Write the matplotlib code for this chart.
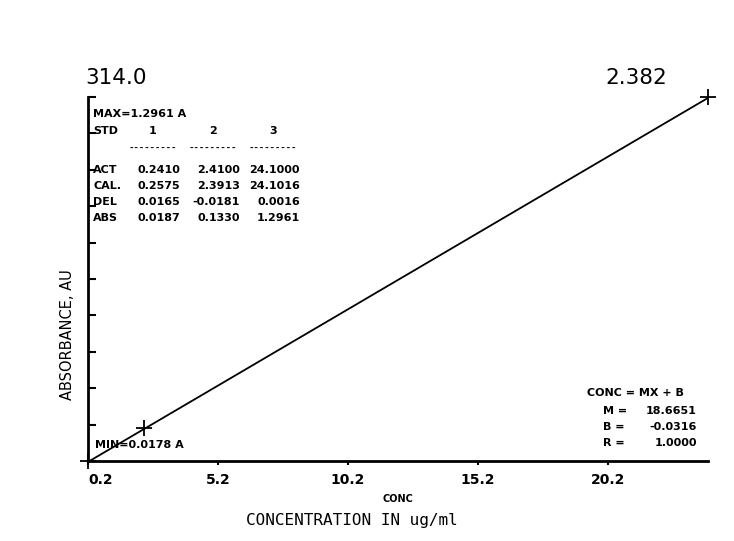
import matplotlib
matplotlib.use("Agg")
import matplotlib.pyplot as plt
import numpy as np

# ---- data ----
wavelength = "314.0"
corner_value = "2.382"
std_ids = ["1", "2", "3"]
act = [0.2410, 2.4100, 24.1000]
cal = [0.2575, 2.3913, 24.1016]
dev = [0.0165, -0.0181, 0.0016]
absb = [0.0187, 0.1330, 1.2961]
abs_max = 1.2961
abs_min = 0.0178
slope_m = 18.6651
intercept_b = -0.0316
corr_r = 1.0000
xtick_values = [0.241, 5.241, 10.241, 15.241, 20.241]
xtick_labels = ["0.2", "5.2", "10.2", "15.2", "20.2"]

SANS = ["DejaVu Sans"]
MONO = ["DejaVu Sans Mono"]

fig = plt.figure(figsize=(7.34, 5.41), dpi=100)
ax = fig.add_axes([88/734, 1-461/541, (708-88)/734, (461-97)/541])

ax.set_xlim(act[0], act[-1])
ax.set_ylim(abs_min, abs_max)

# regression line: CONC = M*ABS + B
xs = np.array([act[0], act[-1]])
ys = (xs - intercept_b) / slope_m
ax.plot(xs, ys, color="black", lw=1.3)
ax.plot(act, absb, linestyle="none", marker="+", ms=12, mew=1.3, color="black",
        clip_on=False)

for s in ["top", "right"]:
    ax.spines[s].set_visible(False)
for s in ["left", "bottom"]:
    ax.spines[s].set_linewidth(2)

ax.set_yticks(np.linspace(abs_min, abs_max, 11))
ax.set_yticklabels([])
ax.tick_params(axis="y", direction="in", length=6, width=1.5)
ax.set_xticks(xtick_values)
ax.set_xticklabels(xtick_labels, fontsize=10, fontweight="bold", fontfamily=SANS)
ax.tick_params(axis="x", direction="out", length=3, width=1.5, pad=6)
ax.get_xticklabels()[0].set_horizontalalignment("left")

fig.text(67/734, 1-335/541, "ABSORBANCE, AU", fontfamily=SANS, fontsize=10.5,
         rotation=90, va="center", ha="center")

# top labels
fig.text(85/734, 1-78/541, wavelength, fontsize=15.5, va="center", ha="left", fontfamily=SANS)
fig.text(667/734, 1-78/541, corner_value, fontsize=15.5, va="center", ha="right", fontfamily=SANS)

# table
def ft(xp, yp, s, ha="left", size=8):
    fig.text(xp/734, 1-yp/541, s, fontsize=size, va="center", ha=ha, fontfamily=SANS,
             fontweight="bold")

ft(93, 114, "MAX=%.4f A" % abs_max)
ft(93, 131, "STD")
col_right = [180, 240, 300]
col_center = [153, 213, 273]
for c, sid in zip(col_center, std_ids):
    ft(c, 131, sid, ha="center")
    fig.text(c/734, 1-148/541, "---------", fontsize=6.5, va="center", ha="center",
             fontfamily=MONO, fontweight="bold")
rows = [("ACT", act), ("CAL.", cal), ("DEL", dev), ("ABS", absb)]
for i, (lab, vals) in enumerate(rows):
    yp = 170 + i * 16
    ft(93, yp, lab)
    for xr, v in zip(col_right, vals):
        ft(xr, yp, "%.4f" % v, ha="right")

ft(95, 445, "MIN=%.4f A" % abs_min)

# regression box
ft(587, 393, "CONC = MX + B")
ft(603, 411, "M =")
ft(603, 427, "B =")
ft(603, 443, "R =")
ft(697, 411, "%.4f" % slope_m, ha="right")
ft(697, 427, "%.4f" % intercept_b, ha="right")
ft(697, 443, "%.4f" % corr_r, ha="right")

ft(398, 499, "CONC", ha="center", size=7)
fig.text(352/734, 1-520/541, "CONCENTRATION IN ug/ml", fontfamily=MONO, fontsize=11.5,
         va="center", ha="center")

fig.savefig("out.png", dpi=100)
